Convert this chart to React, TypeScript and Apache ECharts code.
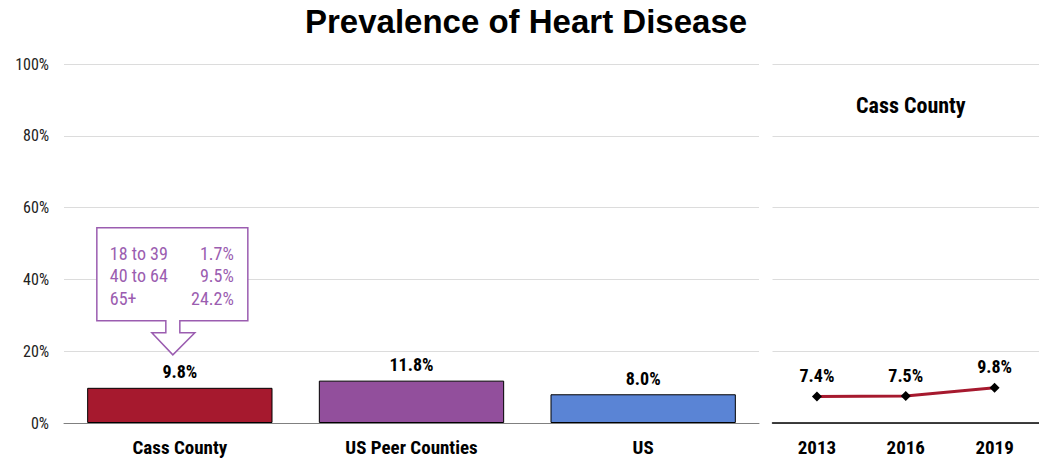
import React, { useEffect, useRef } from "react";
import * as echarts from "echarts";

const categories = ["Cass County", "US Peer Counties", "US"];
const values = [9.8, 11.8, 8.0];
const barColors = ["#A6192E", "#924F9C", "#5A84D5"];
const years = ["2013", "2016", "2019"];
const trend = [7.4, 7.5, 9.8];
const ageGroups = ["18 to 39", "40 to 64", "65+"];
const agePct = [1.7, 9.5, 24.2];

const FONT = "Liberation Sans, Arial, sans-serif";
const NARROW = "'Roboto Condensed', 'Liberation Sans', sans-serif";
const PURPLE = "#9B5DB0";

export default function App() {
  const ref = useRef<HTMLDivElement>(null);
  useEffect(() => {
    if (!ref.current) return;
    const chart = echarts.init(ref.current, null, { renderer: "svg" });
    const option: any = {
      animation: false,
      textStyle: { fontFamily: NARROW },
      title: [
        {
          text: "Prevalence of Heart Disease",
          left: 305,
          top: 5,
          padding: 0,
          textStyle: { fontSize: 33, fontWeight: "bold", color: "#000", fontFamily: FONT },
        },
        {
          text: "Cass County",
          left: 856,
          top: 94,
          padding: 0,
          textStyle: { fontSize: 22, fontWeight: "bold", color: "#000", fontFamily: NARROW },
        },
      ],
      grid: [
        { left: 64, right: 280, top: 64, bottom: 37 },
        { left: 772.5, right: -6.5, top: 64, bottom: 37 },
      ],
      xAxis: [
        {
          type: "category",
          gridIndex: 0,
          data: categories,
          axisTick: { show: false },
          axisLine: { lineStyle: { color: "#808080", width: 1 } },
          axisLabel: { fontSize: 19, fontWeight: "bold", color: "#000", margin: 15, fontFamily: NARROW },
        },
        {
          type: "category",
          gridIndex: 1,
          data: years,
          axisTick: { show: false },
          axisLine: { lineStyle: { color: "#000", width: 1.5 } },
          axisLabel: { fontSize: 19, fontWeight: "bold", color: "#000", margin: 15, fontFamily: NARROW },
        },
      ],
      yAxis: [
        {
          type: "value",
          gridIndex: 0,
          min: 0,
          max: 100,
          interval: 20,
          axisLine: { show: false },
          axisTick: { show: false },
          splitLine: { lineStyle: { color: "#DCDCDC", width: 1 } },
          axisLabel: { formatter: "{value}%", fontSize: 16, color: "#222", margin: 15, fontFamily: NARROW },
        },
        {
          type: "value",
          gridIndex: 1,
          min: 0,
          max: 100,
          interval: 20,
          axisLine: { show: false },
          axisTick: { show: false },
          splitLine: { lineStyle: { color: "#DCDCDC", width: 1 } },
          axisLabel: { show: false },
        },
      ],
      series: [
        {
          type: "bar",
          xAxisIndex: 0,
          yAxisIndex: 0,
          barWidth: "80%",
          data: values.map((v, i) => ({
            value: v,
            itemStyle: { color: barColors[i], borderColor: "#000", borderWidth: 1 },
          })),
          label: {
            show: true,
            position: "top",
            distance: 7,
            fontSize: 18,
            fontWeight: "bold",
            color: "#000",
            fontFamily: NARROW,
            formatter: (p: any) => p.value.toFixed(1) + "%",
          },
        },
        {
          type: "line",
          xAxisIndex: 1,
          yAxisIndex: 1,
          data: trend,
          lineStyle: { color: "#A6192E", width: 3 },
          symbol: "diamond",
          symbolSize: 10,
          itemStyle: { color: "#000" },
          label: {
            show: true,
            position: "top",
            distance: 7,
            fontSize: 18,
            fontWeight: "bold",
            color: "#000",
            fontFamily: NARROW,
            formatter: (p: any) => p.value.toFixed(1) + "%",
          },
        },
      ],
    };
    chart.setOption(option);

    const [cx, cy] = chart.convertToPixel({ gridIndex: 0 }, [categories[0], values[0]]) as number[];
    const pts = [
      [cx - 83, cy - 160],
      [cx + 68, cy - 160],
      [cx + 68, cy - 67],
      [cx, cy - 67],
      [cx, cy - 55],
      [cx + 15, cy - 55],
      [cx - 7, cy - 33],
      [cx - 28, cy - 55],
      [cx - 14, cy - 55],
      [cx - 14, cy - 67],
      [cx - 83, cy - 67],
    ];
    chart.setOption({
      graphic: [
        {
          type: "polygon",
          shape: { points: pts },
          style: { fill: "#fff", stroke: PURPLE, lineWidth: 1.5 },
          z: 10,
        },
        {
          type: "text",
          x: cx - 70,
          y: cy - 112,
          z: 11,
          style: {
            text: ageGroups.join("\n"),
            fill: PURPLE,
            font: `18px ${NARROW}`,
            lineHeight: 22.5,
            textAlign: "left",
            textVerticalAlign: "middle",
          },
        },
        {
          type: "text",
          x: cx + 54,
          y: cy - 112,
          z: 11,
          style: {
            text: agePct.map((v) => v.toFixed(1) + "%").join("\n"),
            fill: PURPLE,
            font: `18px ${NARROW}`,
            lineHeight: 22.5,
            textAlign: "right",
            textVerticalAlign: "middle",
          },
        },
      ],
    });
    return () => chart.dispose();
  }, []);
  return (
    <div
      ref={ref}
      style={{ position: "fixed", left: 0, top: 0, width: 1039, height: 460, background: "#fff" }}
    />
  );
}
